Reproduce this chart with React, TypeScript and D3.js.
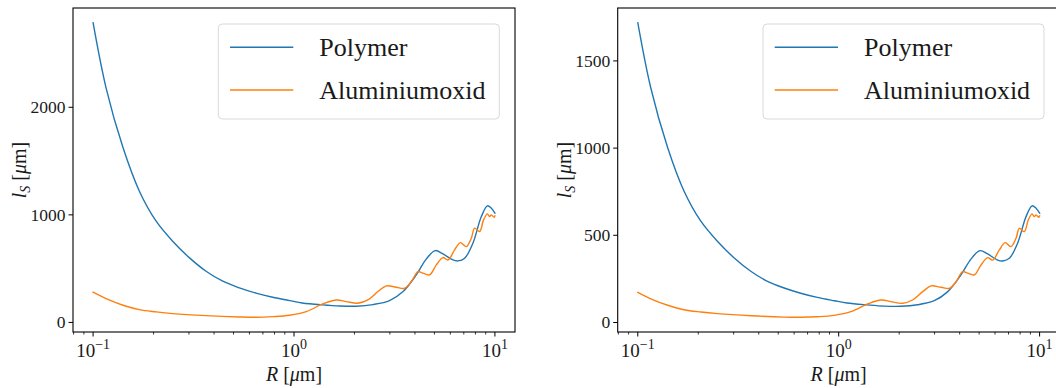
import React from 'react';
import * as d3 from 'd3';

// Particle radius samples (µm) for each material
const radiusPolymer = [0.1, 0.116, 0.141, 0.17, 0.206, 0.249, 0.302, 0.365, 0.442, 0.535, 0.647, 0.783, 0.952, 1.1, 1.39, 1.69, 2.04, 2.47, 2.99, 3.49, 4.06, 4.56, 5.05, 5.51, 6.18, 6.55, 7.07, 7.77, 8.56, 9.17, 9.6, 10];
const radiusOxide = [0.1, 0.116, 0.141, 0.17, 0.206, 0.249, 0.365, 0.535, 0.647, 0.783, 0.95, 1.15, 1.39, 1.63, 1.82, 2.08, 2.33, 2.62, 2.88, 3.23, 3.56, 3.84, 4.14, 4.38, 4.73, 5.11, 5.51, 5.84, 6.3, 6.73, 7.21, 7.63, 7.93, 8.39, 8.78, 9.17, 9.4, 9.6, 9.9, 10];

// Scattering length l_S (µm), left panel
const polymerLeft = [2786, 2181, 1623, 1220, 941, 755, 600, 476, 383, 321, 272, 234, 203, 181, 163, 153, 151, 166, 203, 287, 442, 591, 668, 637, 581, 572, 597, 737, 984, 1084, 1062, 1016];
const oxideLeft = [281, 221, 160, 119, 98, 82, 63, 51, 48, 54, 67, 101, 172, 209, 194, 178, 209, 287, 340, 327, 318, 380, 473, 458, 442, 535, 603, 581, 674, 742, 705, 783, 876, 845, 953, 1009, 984, 1000, 978, 990];

// Scattering length l_S (µm), right panel
const polymerRight = [1719, 1346, 1001, 753, 581, 466, 370, 294, 236, 198, 168, 144, 125, 112, 101, 94, 93, 102, 125, 177, 273, 365, 412, 393, 358, 353, 368, 455, 607, 669, 655, 627];
const oxideRight = [173, 136, 99, 73, 60, 51, 39, 31, 30, 33, 41, 62, 106, 129, 120, 110, 129, 177, 210, 202, 196, 234, 292, 283, 273, 330, 372, 358, 416, 458, 435, 483, 540, 521, 588, 623, 607, 617, 603, 611];

const yTicksLeft = [0, 1000, 2000];
const yTicksRight = [0, 500, 1000, 1500];
const xTickExponents = [-1, 0, 1];
const seriesNames = ['Polymer', 'Aluminiumoxid'];
const seriesColors = ['#1f77b4', '#ff7f0e'];

const FONT = 'Liberation Serif';
const TEXT = '#1a1a1a';

const W = 1056;
const H = 388;
const TOP = 8;
const BOTTOM = 332;
const PANEL_W = 442;

type PanelProps = {
  id: string;
  left: number;
  polymer: number[];
  oxide: number[];
  yTicks: number[];
};

function Panel({ id, left, polymer, oxide, yTicks }: PanelProps) {
  const right = left + PANEL_W;
  const x = d3.scaleLog().domain([Math.pow(10, -1.1), Math.pow(10, 1.1)]).range([left, right]);
  const all = polymer.concat(oxide);
  const [lo, hi] = d3.extent(all) as [number, number];
  const pad = (hi - lo) * 0.05;
  const y = d3.scaleLinear().domain([lo - pad, hi + pad]).range([BOTTOM, TOP]);

  const line = d3
    .line<[number, number]>()
    .x((d) => x(d[0]))
    .y((d) => y(d[1]))
    .curve(d3.curveCatmullRom.alpha(0.5));

  const polyPath = line(radiusPolymer.map((r, i) => [r, polymer[i]] as [number, number])) || '';
  const oxPath = line(radiusOxide.map((r, i) => [r, oxide[i]] as [number, number])) || '';

  const [d0, d1] = x.domain();
  const minor: number[] = [];
  for (let e = -2; e <= 1; e++) {
    for (let k = 2; k <= 9; k++) {
      const v = k * Math.pow(10, e);
      if (v >= d0 && v <= d1) minor.push(v);
    }
  }

  const cx = (left + right) / 2;
  const legRight = right - 15.7;
  const legLeft = legRight - 281;
  const legTop = 24;
  const txt = { fontFamily: FONT, fill: TEXT } as React.CSSProperties;

  return (
    <g>
      <defs>
        <clipPath id={id}>
          <rect x={left} y={TOP} width={PANEL_W} height={BOTTOM - TOP} />
        </clipPath>
      </defs>
      <g clipPath={`url(#${id})`} fill="none" strokeWidth={1.4} strokeLinejoin="round" strokeLinecap="square">
        <path d={polyPath} stroke={seriesColors[0]} />
        <path d={oxPath} stroke={seriesColors[1]} />
      </g>

      {/* frame */}
      <rect x={left} y={TOP} width={PANEL_W} height={BOTTOM - TOP} fill="none" stroke="#000" strokeWidth={1.1} />

      {/* y ticks */}
      {yTicks.map((t) => (
        <g key={`y${t}`}>
          <line x1={left - 4.5} x2={left} y1={y(t)} y2={y(t)} stroke="#000" strokeWidth={1} />
          <text x={left - 7.5} y={y(t)} dy="0.34em" textAnchor="end" fontSize={17.5} style={txt}>
            {t}
          </text>
        </g>
      ))}

      {/* x ticks */}
      {minor.map((v) => (
        <line key={`m${v}`} x1={x(v)} x2={x(v)} y1={BOTTOM} y2={BOTTOM + 2.5} stroke="#000" strokeWidth={0.8} />
      ))}
      {xTickExponents.map((e) => {
        const px = x(Math.pow(10, e));
        return (
          <g key={`x${e}`}>
            <line x1={px} x2={px} y1={BOTTOM} y2={BOTTOM + 4.5} stroke="#000" strokeWidth={1} />
            <text x={px} y={357} textAnchor="middle" fontSize={19} style={txt}>
              10
              <tspan fontSize={14} dy={-8}>
                {e < 0 ? `\u2212${-e}` : `${e}`}
              </tspan>
            </text>
          </g>
        );
      })}

      {/* axis labels */}
      <text x={cx} y={381} textAnchor="middle" fontSize={20} style={txt}>
        <tspan fontStyle="italic">R</tspan>
        <tspan> [</tspan>
        <tspan fontStyle="italic">μ</tspan>
        <tspan>m]</tspan>
      </text>
      <text
        transform={`translate(${left - 47},${(TOP + BOTTOM) / 2}) rotate(-90)`}
        textAnchor="middle"
        fontSize={20}
        style={txt}
      >
        <tspan fontStyle="italic">l</tspan>
        <tspan fontStyle="italic" fontSize={14} dy={4}>S</tspan>
        <tspan dy={-4}> [</tspan>
        <tspan fontStyle="italic">μ</tspan>
        <tspan>m]</tspan>
      </text>

      {/* legend */}
      <rect
        x={legLeft}
        y={legTop}
        width={281}
        height={95}
        rx={4}
        fill="#fff"
        fillOpacity={0.8}
        stroke="#d9d9d9"
        strokeWidth={1}
      />
      {seriesNames.map((name, i) => {
        const ly = 47.3 + i * 42.7;
        return (
          <g key={name}>
            <line x1={legLeft + 11.7} x2={legLeft + 75} y1={ly} y2={ly} stroke={seriesColors[i]} strokeWidth={1.4} />
            <text x={legLeft + 101} y={ly + 9} fontSize={26} style={txt}>
              {name}
            </text>
          </g>
        );
      })}
    </g>
  );
}

export default function App() {
  return (
    <svg
      width={W}
      height={H}
      viewBox={`0 0 ${W} ${H}`}
      style={{ position: 'absolute', left: 0, top: 0, background: '#fff' }}
    >
      <rect width={W} height={H} fill="#fff" />
      <Panel id="clip-left" left={73} polymer={polymerLeft} oxide={oxideLeft} yTicks={yTicksLeft} />
      <Panel id="clip-right" left={617.7} polymer={polymerRight} oxide={oxideRight} yTicks={yTicksRight} />
    </svg>
  );
}
